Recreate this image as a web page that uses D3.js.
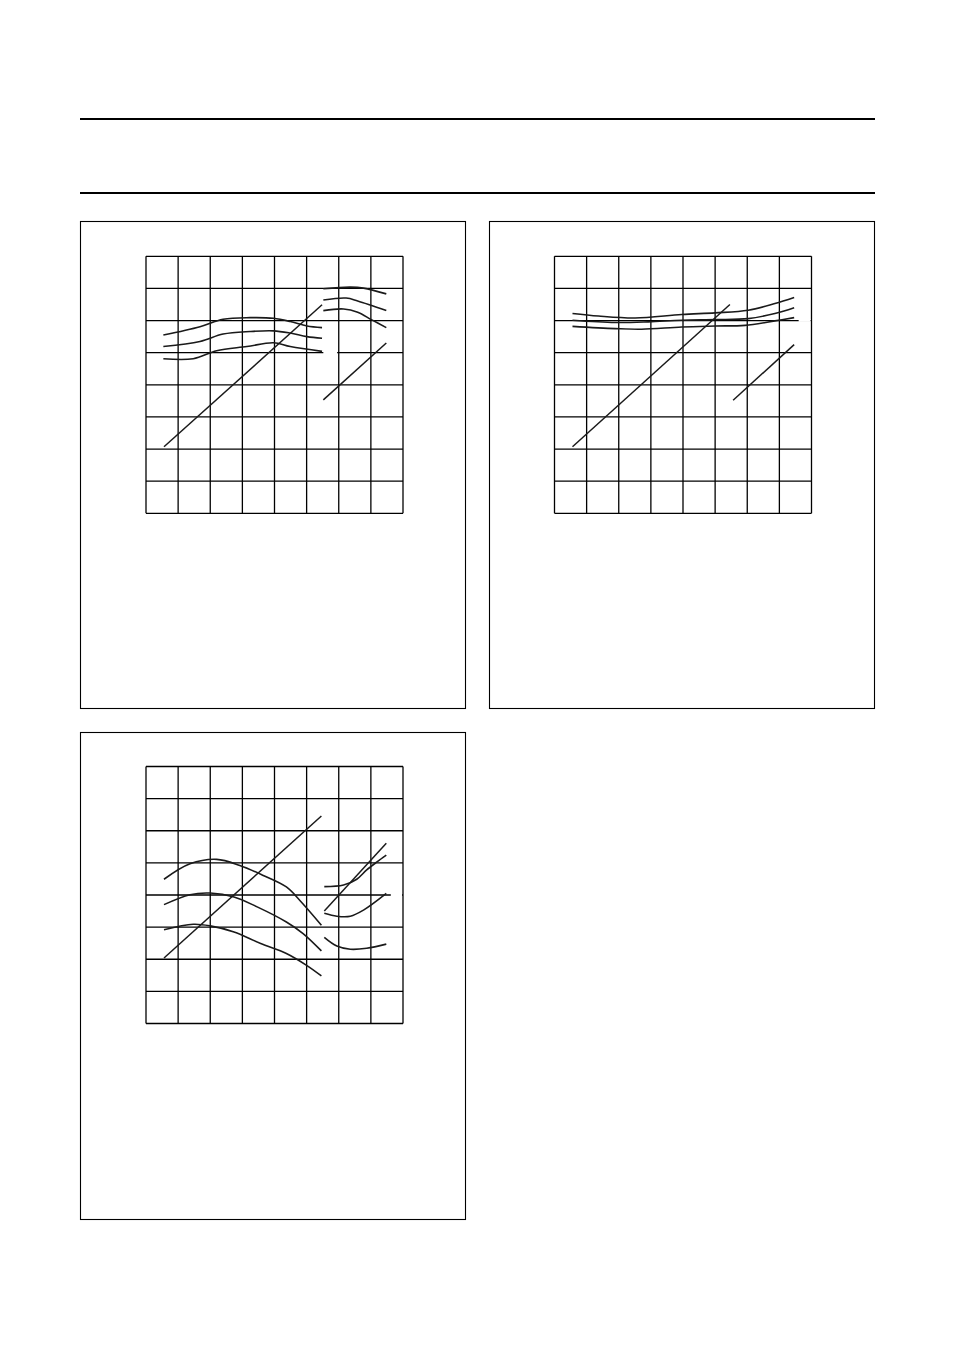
<!DOCTYPE html>
<html>
<head>
<meta charset="utf-8">
<script src="https://cdn.jsdelivr.net/npm/d3@7"></script>
<style>
  body { margin: 0; background: #fff; }
  svg { display: block; }
</style>
</head>
<body>
<div id="page"></div>
<script>
// grid divisions (8 x 8, no labels on the page)
const gridTicks = [0, 1, 2, 3, 4, 5, 6, 7, 8];

// chart 1 - left group of curves, right group, and the two straight lines
const c1Upper = [[0.54,5.55],[1.68,5.81],[2.40,6.04],[3.24,6.09],[3.97,6.07],[4.49,5.97],[5.01,5.83],[5.48,5.78]];
const c1Mid = [[0.54,5.19],[1.68,5.35],[2.40,5.58],[3.24,5.66],[3.97,5.68],[4.49,5.61],[5.01,5.50],[5.48,5.45]];
const c1Lower = [[0.54,4.81],[1.47,4.81],[2.20,5.06],[3.14,5.19],[3.97,5.31],[4.49,5.19],[5.48,5.04]];
const c1RightUpper = [[5.52,6.99],[6.36,7.04],[6.77,7.01],[7.48,6.83]];
const c1RightMid = [[5.52,6.64],[6.23,6.70],[6.59,6.61],[7.48,6.31]];
const c1RightLower = [[5.52,6.31],[6.15,6.36],[6.59,6.26],[7.03,6.02],[7.48,5.78]];
const c1Diag = [[0.56,2.07],[5.48,6.49]];
const c1DiagRight = [[5.52,3.53],[7.48,5.30]];

// chart 2
const c2Upper = [[0.56,6.22],[1.37,6.14],[2.51,6.08],[3.96,6.19],[5.00,6.24],[6.03,6.32],[6.86,6.53],[7.46,6.72]];
const c2Mid = [[0.56,6.01],[1.89,5.94],[2.92,5.96],[3.96,6.01],[5.00,6.03],[6.03,6.06],[6.86,6.22],[7.46,6.40]];
const c2Lower = [[0.56,5.82],[1.89,5.75],[2.71,5.73],[3.96,5.80],[5.00,5.83],[5.93,5.85],[6.86,5.99],[7.46,6.09]];
const c2Diag = [[0.56,2.07],[5.46,6.50]];
const c2DiagRight = [[5.56,3.52],[7.46,5.25]];

// chart 3
const c3Upper = [[0.56,4.49],[1.37,4.97],[2.20,5.11],[2.92,4.92],[3.65,4.61],[4.37,4.25],[4.79,3.83],[5.46,3.06]];
const c3Mid = [[0.56,3.70],[1.37,4.01],[2.00,4.06],[2.74,3.94],[3.46,3.63],[4.37,3.16],[4.89,2.80],[5.46,2.26]];
const c3Lower = [[0.56,2.92],[1.47,3.09],[2.00,3.04],[2.74,2.85],[3.57,2.49],[4.37,2.18],[5.00,1.81],[5.46,1.48]];
const c3RightUpper = [[5.55,4.26],[6.15,4.31],[6.56,4.49],[6.87,4.78],[7.19,5.03],[7.48,5.24]];
const c3RightMid = [[5.55,3.43],[5.94,3.34],[6.36,3.34],[6.77,3.53],[7.48,4.05]];
const c3RightLower = [[5.55,2.68],[5.94,2.41],[6.36,2.31],[6.87,2.34],[7.48,2.47]];
const c3Diag = [[0.56,2.04],[5.46,6.46]];
const c3DiagRight = [[5.55,3.50],[7.48,5.61]];

const W = 954, H = 1351;
const GRID = 257;

const svg = d3.select('#page').append('svg')
  .attr('width', W)
  .attr('height', H);

// page header rules
[119, 193].forEach(y => {
  svg.append('line')
    .attr('x1', 80).attr('x2', 875)
    .attr('y1', y).attr('y2', y)
    .attr('stroke', '#000')
    .attr('stroke-width', 2);
});

// one panel: frame box, grid, curves
function drawPanel(box, grid, curves, lines, gap) {
  svg.append('rect')
    .attr('x', box.x).attr('y', box.y)
    .attr('width', 385).attr('height', 487)
    .attr('fill', 'none')
    .attr('stroke', '#000')
    .attr('stroke-width', 1.1);

  const x = d3.scaleLinear().domain([0, 8]).range([grid.x, grid.x + GRID]);
  const y = d3.scaleLinear().domain([0, 8]).range([grid.y + GRID, grid.y]);

  const g = svg.append('g');

  g.selectAll('line.v')
    .data(gridTicks)
    .enter()
    .append('line')
    .attr('class', 'v')
    .attr('x1', d => x(d)).attr('x2', d => x(d))
    .attr('y1', y(0)).attr('y2', y(8))
    .attr('stroke', '#000')
    .attr('stroke-width', 1.3);

  g.selectAll('line.h')
    .data(gridTicks)
    .enter()
    .append('line')
    .attr('class', 'h')
    .attr('x1', x(0)).attr('x2', x(8))
    .attr('y1', d => y(d)).attr('y2', d => y(d))
    .attr('stroke', '#000')
    .attr('stroke-width', 1.3);

  // small white knockout in one grid line (where a label once sat)
  if (gap) {
    g.append('line')
      .attr('x1', x(gap[0])).attr('x2', x(gap[1]))
      .attr('y1', y(gap[2])).attr('y2', y(gap[2]))
      .attr('stroke', '#fff')
      .attr('stroke-width', 2.6);
  }

  const smooth = d3.line()
    .x(d => x(d[0]))
    .y(d => y(d[1]))
    .curve(d3.curveCatmullRom.alpha(0.5));

  const straight = d3.line()
    .x(d => x(d[0]))
    .y(d => y(d[1]));

  g.selectAll('path.curve')
    .data(curves)
    .enter()
    .append('path')
    .attr('class', 'curve')
    .attr('d', smooth)
    .attr('fill', 'none')
    .attr('stroke', '#1a1a1a')
    .attr('stroke-width', 1.6);

  g.selectAll('path.straight')
    .data(lines)
    .enter()
    .append('path')
    .attr('class', 'straight')
    .attr('d', straight)
    .attr('fill', 'none')
    .attr('stroke', '#1a1a1a')
    .attr('stroke-width', 1.5);
}

drawPanel({x: 80.5, y: 221.5}, {x: 146, y: 256.3},
  [c1Upper, c1Mid, c1Lower, c1RightUpper, c1RightMid, c1RightLower],
  [c1Diag, c1DiagRight],
  [5.52, 5.95, 5]);

drawPanel({x: 489.5, y: 221.5}, {x: 554.5, y: 256.3},
  [c2Upper, c2Mid, c2Lower],
  [c2Diag, c2DiagRight],
  [7.6, 7.97, 6]);

drawPanel({x: 80.5, y: 732.5}, {x: 146, y: 766.5},
  [c3Upper, c3Mid, c3Lower, c3RightUpper, c3RightMid, c3RightLower],
  [c3Diag, c3DiagRight],
  [7.62, 7.97, 4]);
</script>
</body>
</html>
